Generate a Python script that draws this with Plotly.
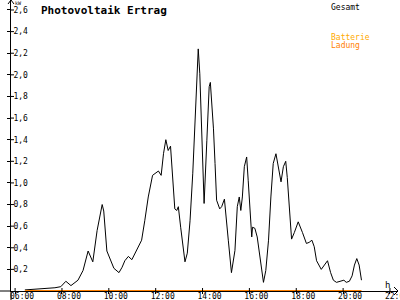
import plotly.graph_objects as go

# ---- data ----
times = ["06:25","07:17","07:42","07:57","08:10","08:23","08:41","08:54","09:07","09:19",
         "09:30","09:43","09:47","09:55","10:03","10:13","10:26","10:34","10:41","10:50",
         "10:59","11:11","11:24","11:32","11:41","11:52","12:07","12:14","12:20","12:26",
         "12:32","12:38","12:45","12:49","12:54","12:58","13:04","13:09","13:15","13:21",
         "13:28","13:35","13:43","13:49","13:53","13:58","14:04","14:11","14:17","14:20",
         "14:28","14:32","14:36","14:44","14:49","14:56","15:00","15:06","15:14","15:23",
         "15:29","15:34","15:38","15:42","15:47","15:53","15:57","16:02","16:06","16:08",
         "16:14","16:20","16:27","16:36","16:42","16:49","16:55","17:01","17:08","17:14",
         "17:21","17:27","17:33","17:37","17:44","17:48","17:55","18:05","18:16","18:26",
         "18:33","18:40","18:46","18:52","19:04","19:12","19:20","19:28","19:35","19:43",
         "19:56","20:02","20:08","20:16","20:23","20:29","20:35","20:41","20:47"]
gesamt = [0.01,0.02,0.03,0.04,0.09,0.05,0.10,0.19,0.37,0.27,
          0.56,0.80,0.74,0.37,0.29,0.21,0.17,0.22,0.28,0.32,
          0.29,0.375,0.47,0.65,0.87,1.07,1.11,1.07,1.27,1.40,
          1.30,1.34,0.99,0.76,0.745,0.78,0.59,0.42,0.27,0.35,
          0.65,1.09,1.70,2.24,2.01,1.39,0.81,1.39,1.89,1.93,
          1.50,1.18,0.84,0.76,0.78,0.85,0.68,0.47,0.17,0.375,
          0.78,0.87,0.745,0.87,1.15,1.24,1.02,0.71,0.50,0.59,
          0.58,0.50,0.31,0.08,0.19,0.47,0.87,1.18,1.27,1.15,
          1.01,1.15,1.20,1.05,0.68,0.48,0.54,0.64,0.54,0.44,
          0.45,0.47,0.41,0.28,0.20,0.24,0.28,0.17,0.10,0.08,
          0.09,0.10,0.08,0.09,0.14,0.24,0.30,0.24,0.10]
ladung_times = ["06:25", "20:47"]
ladung = [0.0, 0.0]

x_tick_hours = [6, 8, 10, 12, 14, 16, 18, 20, 22]
x_tick_labels = ["06:00","08:00","10:00","12:00","14:00","16:00","18:00","20:00","22:00"]
y_tick_vals = [0.2,0.4,0.6,0.8,1.0,1.2,1.4,1.6,1.8,2.0,2.2,2.4,2.6]

def to_h(t):
    h, m = t.split(":")
    return int(h) + int(m) / 60.0

xg = [to_h(t) for t in times]
xl = [to_h(t) for t in ladung_times]

W, H = 400, 300
L, R, T, B = 11, 2, 0, 9
PW, PH = W - L - R, H - T - B

def px(x):  # pixel -> paper
    return (x - L) / PW
def py(y):
    return (H - B - y) / PH

MONO = "DejaVu Sans Mono"

fig = go.Figure()
fig.add_trace(go.Scatter(x=xg, y=gesamt, mode="lines",
                         line=dict(color="black", width=1), hoverinfo="skip"))
fig.add_trace(go.Scatter(x=xl, y=ladung, mode="lines",
                         line=dict(color="#ff8000", width=2), hoverinfo="skip", cliponaxis=False))

shapes = []
# axis extensions and arrows
shapes.append(dict(type="line", xref="paper", yref="paper", x0=px(0), x1=px(11), y0=0, y1=0,
                   line=dict(color="black", width=1)))
shapes.append(dict(type="line", xref="paper", yref="paper", x0=0, x1=0, y0=py(300), y1=0,
                   line=dict(color="black", width=1)))
shapes.append(dict(type="path", xref="paper", yref="paper",
                   path=f"M {px(394)} {py(287)} L {px(398)} {py(291)} L {px(394)} {py(295)}",
                   line=dict(color="black", width=1)))
shapes.append(dict(type="path", xref="paper", yref="paper",
                   path=f"M {px(8)} {py(4)} L {px(11)} {py(0)} L {px(14)} {py(4)}",
                   line=dict(color="black", width=1)))
# inside half of crossing ticks
for v in y_tick_vals:
    shapes.append(dict(type="line", xref="paper", yref="y", x0=0, x1=px(14), y0=v, y1=v,
                       line=dict(color="black", width=1)))
for v in x_tick_hours:
    shapes.append(dict(type="line", xref="x", yref="paper", x0=v, x1=v, y0=0, y1=py(288),
                       line=dict(color="black", width=1)))

annotations = [
    dict(text="<b>Photovoltaik Ertrag</b>", xref="paper", yref="paper", x=px(39), y=py(2),
         xanchor="left", yanchor="top", showarrow=False, font=dict(family=MONO, size=11, color="black")),
    dict(text="kW", xref="paper", yref="paper", x=px(13), y=py(-2),
         xanchor="left", yanchor="top", showarrow=False, font=dict(family=MONO, size=5, color="black")),
    dict(text="h", xref="paper", yref="paper", x=px(387), y=py(278),
         xanchor="center", yanchor="top", showarrow=False, font=dict(family=MONO, size=9, color="black")),
    dict(text="Gesamt", xref="paper", yref="paper", x=px(329), y=py(1),
         xanchor="left", yanchor="top", showarrow=False, font=dict(family=MONO, size=8, color="black")),
    dict(text="Batterie", xref="paper", yref="paper", x=px(329), y=py(31),
         xanchor="left", yanchor="top", showarrow=False, font=dict(family=MONO, size=8, color="#ffaa00")),
    dict(text="Ladung", xref="paper", yref="paper", x=px(329), y=py(39),
         xanchor="left", yanchor="top", showarrow=False, font=dict(family=MONO, size=8, color="#ff8000")),
]

x0 = 6 - 4.1 / 23.43
x1 = 6 + (398 - 15.1) / 23.43
y1 = 291 / 108.08

fig.update_layout(
    width=W, height=H, margin=dict(l=L, r=R, t=T, b=B, pad=0, autoexpand=False),
    paper_bgcolor="white", plot_bgcolor="white", showlegend=False,
    separators=",.",
    shapes=shapes, annotations=annotations,
    xaxis=dict(range=[x0, x1], tickvals=x_tick_hours, ticktext=x_tick_labels,
               ticks="outside", ticklen=2, tickwidth=1, tickcolor="black",
               showgrid=False, zeroline=False, showline=True, linecolor="black", linewidth=1,
               ticklabelshift=7, ticklabelstandoff=-5, ticklabeloverflow="allow",
               automargin=False,
               tickfont=dict(family=MONO, size=8, color="black")),
    yaxis=dict(range=[0, y1], tickvals=y_tick_vals, tickformat=".1f",
               ticks="outside", ticklen=3, tickwidth=1, tickcolor="black",
               ticklabelposition="inside", ticklabelstandoff=1, ticklabeloverflow="allow",
               automargin=False,
               showgrid=False, zeroline=False, showline=True, linecolor="black", linewidth=1,
               tickfont=dict(family=MONO, size=8, color="black")),
)

fig.write_html("out.html")
